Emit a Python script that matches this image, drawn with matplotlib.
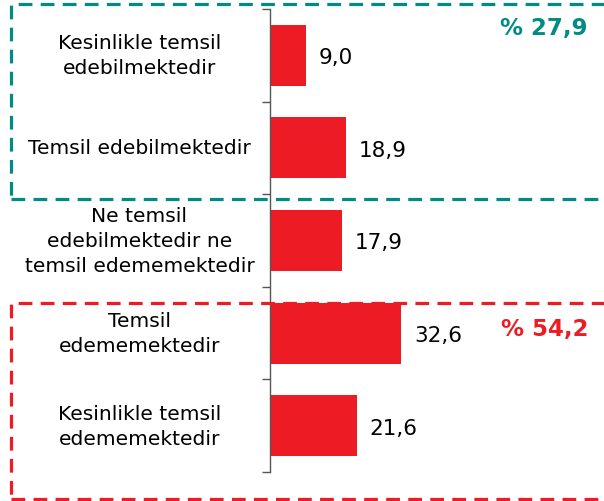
import matplotlib
matplotlib.use("Agg")
import matplotlib.pyplot as plt
from matplotlib.patches import Rectangle

categories = [
    "Kesinlikle temsil\nedebilmektedir",
    "Temsil edebilmektedir",
    "Ne temsil\nedebilmektedir ne\ntemsil edememektedir",
    "Temsil\nedememektedir",
    "Kesinlikle temsil\nedememektedir",
]
values = [9.0, 18.9, 17.9, 32.6, 21.6]
group_labels = ["% 27,9", "% 54,2"]

RED = "#ED1C24"
TEAL = "#008B85"

W, H = 604, 502
fig = plt.figure(figsize=(W / 100, H / 100), dpi=100)
ax = fig.add_axes([270 / W, 1 - 473 / H, 1 - 270 / W, (473 - 10) / H])

y = list(range(len(categories)))
ax.barh(y, values, height=0.66, color=RED, edgecolor="none")
ax.set_ylim(len(categories) - 0.5, -0.5)
ax.set_xlim(0, (W - 270) / 4.02)

for yi, v in zip(y, values):
    ax.text(v + 3.2, yi + 0.02, f"{v:.1f}".replace(".", ","), va="center", ha="left",
            fontsize=15.5, color="black")

ax.set_yticks([i - 0.5 for i in range(len(categories) + 1)])
ax.set_yticklabels([])
ax.tick_params(axis="y", length=6, width=1, color="#555555", direction="out")
ax.set_xticks([])
for s in ["top", "right", "bottom"]:
    ax.spines[s].set_visible(False)
ax.spines["left"].set_color("#555555")
ax.spines["left"].set_linewidth(1)

for yi, cat in zip(y, categories):
    ax.annotate(cat, xy=(0, yi), xycoords=("axes fraction", "data"),
                xytext=(-94, 0), textcoords="offset points",
                ha="center", va="center", multialignment="center",
                fontsize=14.6, color="black", linespacing=1.38)

def fig_rect(x0, y0, x1, y1, color):
    r = Rectangle((x0 / W, 1 - y1 / H), (x1 - x0) / W, (y1 - y0) / H,
                  transform=fig.transFigure, fill=False, edgecolor=color,
                  linewidth=2.3, linestyle=(0, (4.3, 2.6)), clip_on=False)
    fig.add_artist(r)

fig_rect(11, 5, 640, 200, TEAL)
fig_rect(11, 304, 640, 500, RED)

fig.text(544 / W, 1 - 29 / H, group_labels[0], color=TEAL, fontsize=16.5,
         fontweight="bold", ha="center", va="center")
fig.text(545 / W, 1 - 330 / H, group_labels[1], color=RED, fontsize=16.5,
         fontweight="bold", ha="center", va="center")

fig.savefig("out.png", dpi=100)
